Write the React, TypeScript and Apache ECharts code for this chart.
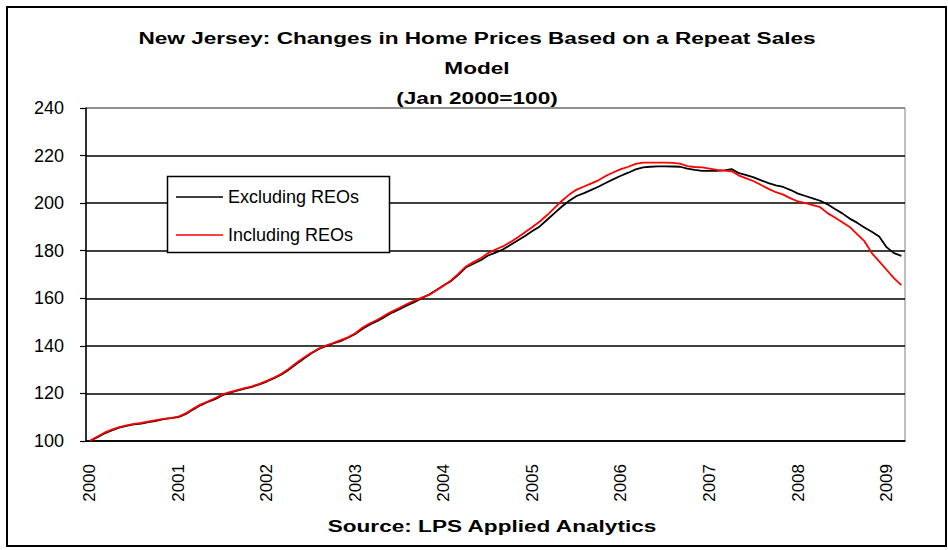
import React, { useEffect, useRef } from "react";
import * as echarts from "echarts";

const startYear = 2000;
const monthCount = 111; // Jan 2000 .. Mar 2009
const categories: string[] = [];
for (let i = 0; i < monthCount; i++) {
  const y = startYear + Math.floor(i / 12);
  const m = (i % 12) + 1;
  categories.push(`${y}-${m < 10 ? "0" + m : m}`);
}

const yTicks = { min: 100, max: 240, interval: 20 };

const excludingREOs = [
  // 2000
  100, 101.5, 103.2, 104.5, 105.6, 106.4, 107, 107.3, 107.9, 108.5, 109.2, 109.6,
  // 2001
  110, 111.3, 113.2, 115, 116.4, 117.6, 119.3, 120.3, 121.2, 122, 122.8, 123.8,
  // 2002
  125, 126.4, 128, 130, 132.4, 134.6, 136.8, 138.6, 139.9, 141, 142, 143.4,
  // 2003
  145, 147.2, 149, 150.5, 152.2, 154, 155.4, 157, 158.4, 160, 161.6, 163.5,
  // 2004
  165.5, 167.3, 170, 173, 174.5, 176, 178, 179.2, 180.5, 182.4, 184.3, 186.2,
  // 2005
  188.3, 190.2, 193, 195.8, 198.6, 201, 203, 204.2, 205.6, 207, 208.6, 210.1,
  // 2006
  211.5, 212.8, 214.2, 215, 215.3, 215.5, 215.5, 215.4, 215.3, 214.5, 214, 213.6,
  // 2007
  213.6, 213.6, 213.8, 214.3, 212.6, 211.8, 210.8, 209.6, 208.4, 207.5, 206.8, 205.5,
  // 2008
  204, 203, 202, 201, 199.5, 197.5, 195.7, 193.5, 191.8, 189.8, 188, 186,
  // 2009
  181.5, 179, 177.8,
];

const includingREOs = [
  // 2000
  100, 101.8, 103.5, 104.8, 105.8, 106.6, 107.2, 107.6, 108.2, 108.8, 109.3, 109.6,
  // 2001
  110.2, 111.6, 113.5, 115.3, 116.6, 118, 119.6, 120.5, 121.4, 122.2, 123, 124,
  // 2002
  125.3, 126.7, 128.3, 130.4, 132.8, 135, 137, 138.8, 140.1, 141.2, 142.4, 143.6,
  // 2003
  145.3, 147.7, 149.5, 151, 152.8, 154.5, 156, 157.6, 159, 160.3, 161.4, 163.4,
  // 2004
  165.4, 167.6, 170.4, 173.4, 175.2, 176.8, 179, 180.5, 181.8, 183.6, 185.6, 187.8,
  // 2005
  190, 192.3, 195, 198, 201, 203.6, 205.7, 207, 208.3, 209.7, 211.5, 213,
  // 2006
  214.3, 215.3, 216.5, 217, 217, 217, 217, 216.9, 216.6, 215.6, 215.2, 215,
  // 2007
  214.5, 214, 213.7, 213.4, 211.6, 210.4, 209.2, 207.6, 206, 204.6, 203.6, 202,
  // 2008
  200.7, 200, 199.2, 198.3, 195.8, 194, 192, 190, 187, 184, 179, 175.5,
  // 2009
  172, 168.5, 165.5,
];

const titleLines = [
  "New Jersey: Changes in Home Prices Based on a Repeat Sales",
  "Model",
  "(Jan 2000=100)",
];
const sourceText = "Source: LPS Applied Analytics";
const seriesNames = ["Excluding REOs", "Including REOs"];

const FONT = "Arial, 'Liberation Sans', Helvetica, sans-serif";

export default function App() {
  const ref = useRef<HTMLDivElement>(null);
  useEffect(() => {
    if (!ref.current) return;
    const chart = echarts.init(ref.current, null, { renderer: "svg" });
    const sx = 1.33;
    chart.setOption({
      animation: false,
      backgroundColor: "#ffffff",
      textStyle: { fontFamily: FONT },
      grid: {
        left: 86,
        top: 108,
        right: 43,
        bottom: 109,
        show: true,
        borderColor: "#808080",
        borderWidth: 1,
        containLabel: false,
      },
      legend: {
        orient: "vertical",
        left: 176,
        top: 187,
        padding: 0,
        itemGap: 18,
        itemWidth: 47,
        itemHeight: 1.5,
        icon: "rect",
        z: 60,
        data: seriesNames,
        textStyle: { fontSize: 18, color: "#000", fontFamily: FONT, lineHeight: 20 },
        selectedMode: false,
      },
      xAxis: {
        type: "category",
        data: categories,
        boundaryGap: true,
        axisLine: { show: true, lineStyle: { color: "#000", width: 1.5 } },
        axisTick: { show: false },
        axisLabel: {
          interval: (index: number) => index % 12 === 0,
          rotate: 90,
          margin: 23,
          fontSize: 17,
          color: "#000",
          fontFamily: FONT,
          formatter: (v: string) => v.slice(0, 4),
        },
        splitLine: { show: false },
      },
      yAxis: {
        type: "value",
        min: yTicks.min,
        max: yTicks.max,
        interval: yTicks.interval,
        axisLine: { show: true, lineStyle: { color: "#000", width: 1.5 } },
        axisTick: { show: true, length: 6, lineStyle: { color: "#000", width: 1.2 } },
        axisLabel: { margin: 22, fontSize: 18, color: "#000", fontFamily: FONT },
        splitLine: {
          show: true,
          lineStyle: {
            color: ["#000", "#000", "#000", "#000", "#000", "#000", "#000", "#808080"],
            width: 1.5,
          },
        },
      },
      series: [
        {
          name: seriesNames[0],
          type: "line",
          data: excludingREOs,
          symbol: "none",
          lineStyle: { color: "#000000", width: 1.8 },
          itemStyle: { color: "#000000" },
          z: 3,
        },
        {
          name: seriesNames[1],
          type: "line",
          data: includingREOs,
          symbol: "none",
          lineStyle: { color: "#ff0000", width: 1.8 },
          itemStyle: { color: "#ff0000" },
          z: 4,
        },
      ],
      graphic: [
        {
          type: "rect",
          z: 1,
          shape: { x: 7, y: 7, width: 939, height: 539 },
          style: { fill: "none", stroke: "#000", lineWidth: 2 },
        },
        {
          type: "rect",
          z: 50,
          shape: { x: 167.5, y: 176.5, width: 222, height: 76 },
          style: { fill: "#fff", stroke: "#000", lineWidth: 1.5 },
        },
        ...titleLines.map((t, i) => ({
          type: "text",
          z: 50,
          x: 477,
          y: 38 + i * 30,
          scaleX: sx,
          style: {
            text: t,
            font: `bold 17px ${FONT}`,
            fill: "#000",
            textAlign: "center",
            textVerticalAlign: "middle",
          },
        })),
        {
          type: "text",
          z: 50,
          x: 492,
          y: 526,
          scaleX: sx,
          style: {
            text: sourceText,
            font: `bold 17px ${FONT}`,
            fill: "#000",
            textAlign: "center",
            textVerticalAlign: "middle",
          },
        },
      ],
    });
    return () => chart.dispose();
  }, []);
  return (
    <div
      ref={ref}
      style={{ position: "absolute", left: 0, top: 0, width: 948, height: 550 }}
    />
  );
}
